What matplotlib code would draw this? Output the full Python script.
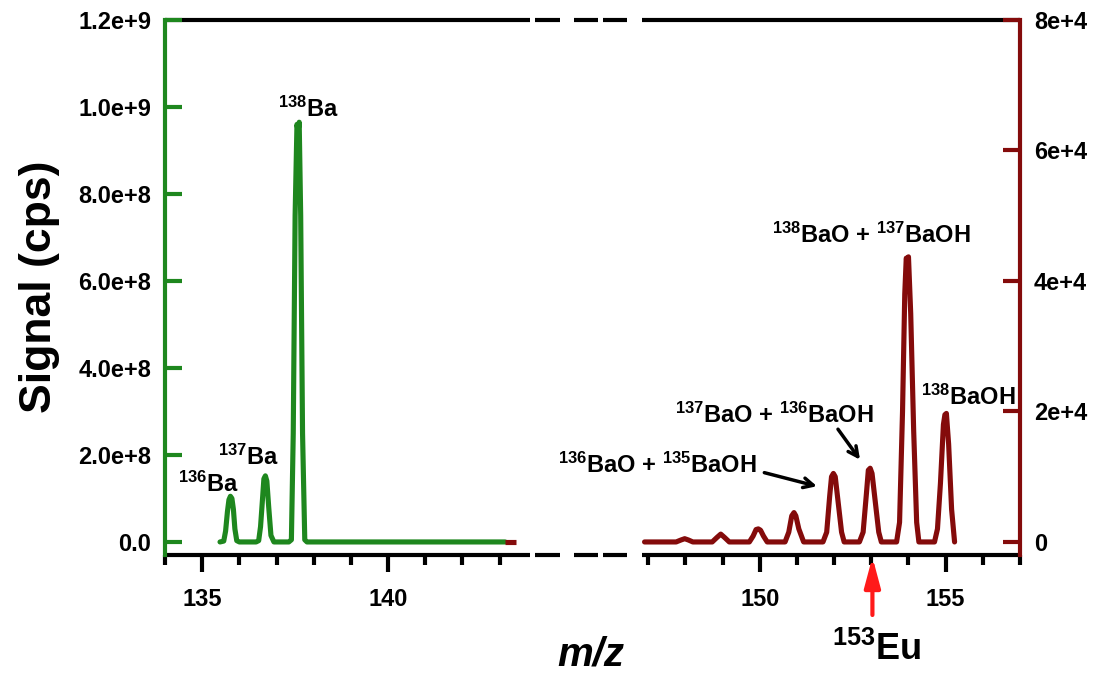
import matplotlib
matplotlib.use("Agg")
import matplotlib.pyplot as plt
import matplotlib.transforms as mtransforms

plt.rcParams['font.family'] = ['Liberation Sans', 'DejaVu Sans']
plt.rcParams['mathtext.fontset'] = 'custom'
plt.rcParams['mathtext.rm'] = 'Liberation Sans:bold'
plt.rcParams['mathtext.bf'] = 'Liberation Sans:bold'
plt.rcParams['mathtext.it'] = 'Liberation Sans:italic:bold'

# ---------------- data ----------------
# Ba+ region (left axis, cps)
ba_mz = [135.48, 135.58, 135.63, 135.68, 135.72, 135.76, 135.80, 135.84, 135.88, 135.93, 136.00,
         136.45, 136.52, 136.57, 136.62, 136.66, 136.70, 136.74, 136.79, 136.85, 136.93,
         137.33, 137.40, 137.45, 137.50, 137.55, 137.58, 137.61, 137.65, 137.70, 137.76, 137.82,
         143.15]
ba_signal = [0, 0.02e8, 0.25e8, 0.70e8, 0.97e8, 1.05e8, 1.00e8, 0.75e8, 0.30e8, 0.03e8, 0,
             0, 0.03e8, 0.35e8, 0.95e8, 1.45e8, 1.52e8, 1.40e8, 0.80e8, 0.15e8, 0,
             0, 0.05e8, 2.5e8, 7.5e8, 9.6e8, 9.45e8, 9.65e8, 7.5e8, 2.5e8, 0.05e8, 0,
             0]

# BaO / BaOH region (right axis, cps)
oxide_mz = [143.15, 143.45]
oxide_mz_b = [146.90, 147.75, 147.88, 147.98, 148.08, 148.20,
              148.72, 148.85, 148.95, 149.05, 149.18,
              149.72, 149.82, 149.90, 149.96, 150.02, 150.10, 150.20,
              150.68, 150.78, 150.86, 150.92, 150.97, 151.05, 151.18,
              151.70, 151.80, 151.88, 151.93, 151.98, 152.03, 152.10, 152.20, 152.27,
              152.68, 152.78, 152.87, 152.92, 152.97, 153.02, 153.10, 153.20, 153.27,
              153.68, 153.76, 153.84, 153.90, 153.94, 153.97, 154.00, 154.06, 154.14, 154.22, 154.28,
              154.70, 154.78, 154.86, 154.94, 154.98, 155.02, 155.08, 155.16, 155.24]
oxide_signal_a = [0, 0]
oxide_signal_b = [0, 0, 300, 500, 300, 0,
                  0, 700, 1200, 700, 0,
                  0, 900, 1900, 2000, 1800, 900, 0,
                  0, 1500, 4000, 4500, 4000, 2000, 0,
                  0, 1500, 7000, 10000, 10500, 10000, 6500, 1500, 0,
                  0, 1500, 7500, 11000, 11300, 10500, 6500, 1500, 0,
                  0, 3000, 20000, 38000, 43500, 43000, 43700, 35000, 17000, 3000, 0,
                  0, 2000, 9000, 18000, 19500, 19700, 15000, 5000, 0]

left_ticks = [0, 2e8, 4e8, 6e8, 8e8, 1.0e9, 1.2e9]
left_labels = ["0.0", "2.0e+8", "4.0e+8", "6.0e+8", "8.0e+8", "1.0e+9", "1.2e+9"]
right_ticks = [0, 2e4, 4e4, 6e4, 8e4]
right_labels = ["0", "2e+4", "4e+4", "6e+4", "8e+4"]
x_major = [135, 140, 150, 155]
x_major_labels = ["135", "140", "150", "155"]
x_minor = [134, 136, 137, 138, 139, 141, 142, 143, 147, 148, 149, 151, 152, 153, 154, 156, 157]

GREEN = '#1e871e'
WINE = '#840b0b'

fig = plt.figure(figsize=(10.94, 6.75), dpi=100)
ax = fig.add_axes([165/1094, 1-555/675, (1020-165)/1094, (555-20)/675])
ax2 = ax.twinx()

ax.set_xlim(134, 157)
ax.set_ylim(-0.03e9, 1.2e9)
ax2.set_ylim(-2000, 80000)

ax.plot(ba_mz, ba_signal, color=GREEN, lw=3.7, solid_joinstyle='round', solid_capstyle='round', zorder=3)
ax2.plot(oxide_mz, oxide_signal_a, color=WINE, lw=3.7, solid_capstyle='butt', zorder=3)
ax2.plot(oxide_mz_b, oxide_signal_b, color=WINE, lw=3.7, solid_joinstyle='round', solid_capstyle='round', zorder=3)

# spines
for a in (ax, ax2):
    a.spines['top'].set_visible(False)
    a.spines['bottom'].set_visible(False)
ax.spines['right'].set_visible(False)
ax2.spines['left'].set_visible(False)
ax.spines['left'].set_color(GREEN)
ax.spines['left'].set_linewidth(3)
ax2.spines['right'].set_color(WINE)
ax2.spines['right'].set_linewidth(3)

trans = mtransforms.blended_transform_factory(ax.transData, ax.transAxes)
segments = [(134, 143.81), (143.95, 144.62), (144.99, 145.64), (145.77, 146.42), (146.82, 157)]
for yy in (0, 1):
    for x0, x1 in segments:
        ax.plot([x0, x1], [yy, yy], color='black', lw=3, transform=trans,
                clip_on=False, solid_capstyle='butt', zorder=1)

# ticks
ax.set_yticks(left_ticks)
ax.set_yticklabels(left_labels)
ax.tick_params(axis='y', direction='in', length=12, width=3, color=GREEN,
               labelsize=17, pad=10)
ax2.set_yticks(right_ticks)
ax2.set_yticklabels(right_labels)
ax2.tick_params(axis='y', direction='in', length=12, width=3, color=WINE,
                labelsize=17, pad=10)
ax.set_xticks(x_major)
ax.set_xticklabels(x_major_labels)
ax.set_xticks(x_minor, minor=True)
ax.tick_params(axis='x', which='major', direction='out', length=12, width=3,
               labelsize=17, pad=12)
ax.tick_params(axis='x', which='minor', direction='out', length=7, width=3)
for lab in ax.get_xticklabels() + ax.get_yticklabels() + ax2.get_yticklabels():
    lab.set_fontweight('bold')

# labels
fig.text(40/1094, 1-287/675, "Signal (cps)", rotation=90, fontsize=32,
         fontweight='bold', ha='center', va='center')
fig.text(591/1094, 1-665/675, "m/z", fontsize=29, fontweight='bold',
         fontstyle='italic', ha='center', va='baseline')

tfs = 17
ax.text(134.36, 1.16e8, r"$^{\mathbf{136}}$Ba", fontsize=tfs, fontweight='bold', ha='left', va='baseline')
ax.text(135.43, 1.77e8, r"$^{\mathbf{137}}$Ba", fontsize=tfs, fontweight='bold', ha='left', va='baseline')
ax.text(137.04, 9.78e8, r"$^{\mathbf{138}}$Ba", fontsize=tfs, fontweight='bold', ha='left', va='baseline')

ax2.text(144.56, 10576, r"$^{\mathbf{136}}$BaO + $^{\mathbf{135}}$BaOH", fontsize=tfs, fontweight='bold', ha='left', va='baseline')
ax2.text(147.71, 18239, r"$^{\mathbf{137}}$BaO + $^{\mathbf{136}}$BaOH", fontsize=tfs, fontweight='bold', ha='left', va='baseline')
ax2.text(150.34, 45828, r"$^{\mathbf{138}}$BaO + $^{\mathbf{137}}$BaOH", fontsize=tfs, fontweight='bold', ha='left', va='baseline')
ax2.text(154.35, 20998, r"$^{\mathbf{138}}$BaOH", fontsize=tfs, fontweight='bold', ha='left', va='baseline')

arrow_kw = dict(arrowstyle='->,head_length=0.7,head_width=0.35', color='black', lw=2.5)
ax2.annotate('', xy=(151.61, 8430), xytext=(150.05, 10729), arrowprops=arrow_kw)
ax2.annotate('', xy=(152.74, 12262), xytext=(152.06, 17626), arrowprops=arrow_kw)

# 153Eu marker
ax.annotate('', xy=(153.03, 675-557), xytext=(153.03, 675-615),
            xycoords=('data', 'figure pixels'), textcoords=('data', 'figure pixels'),
            arrowprops=dict(arrowstyle='-|>,head_length=1.2,head_width=0.32', color='#ff1a1a',
                            lw=3, mutation_scale=15, shrinkA=0, shrinkB=0),
            annotation_clip=False)
fig.text(832/1094, 1-660/675, r"$^{\mathbf{153}}$Eu", fontsize=26, fontweight='bold',
         ha='left', va='baseline')

fig.savefig("out.png", dpi=100)
